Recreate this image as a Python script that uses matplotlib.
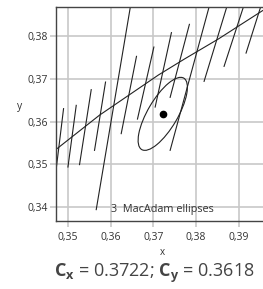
import matplotlib
matplotlib.use("Agg")
import matplotlib.pyplot as plt
from matplotlib.patches import Ellipse
from matplotlib.ticker import FuncFormatter
from matplotlib import font_manager

# chromaticity point
cx = 0.3722
cy = 0.3618

# planckian locus
locus_x = [0.3460, 0.3475, 0.3574, 0.3712, 0.3774, 0.3852, 0.3955, 0.3990]
locus_y = [0.3526, 0.3537, 0.3615, 0.3709, 0.3747, 0.3793, 0.3859, 0.3878]

# isotherm segments, 4900K .. 3700K, (x1, y1) -> (x2, y2)
iso_x1 = [0.34897, 0.35194, 0.35545, 0.35880, 0.36487, 0.36605, 0.37012,
          0.37423, 0.37844, 0.38347, 0.38766, 0.39159, 0.39561]
iso_y1 = [0.36302, 0.36379, 0.36746, 0.36924, 0.38835, 0.37525, 0.37743,
          0.38080, 0.38274, 0.38835, 0.38835, 0.38835, 0.38835]
iso_x2 = [0.34715, 0.35000, 0.35271, 0.35622, 0.35662, 0.36247, 0.36628,
          0.37042, 0.37393, 0.37393, 0.38188, 0.38656, 0.39171]
iso_y2 = [0.34812, 0.34936, 0.34992, 0.35326, 0.33939, 0.35717, 0.36058,
          0.36339, 0.36566, 0.35326, 0.36940, 0.37291, 0.37602]

# 3-step macadam ellipse
ell_a = 0.0097
ell_b = 0.0035
ell_angle = 59.5

xticks = [0.35, 0.36, 0.37, 0.38, 0.39]
yticks = [0.34, 0.35, 0.36, 0.37, 0.38]

# pick a family that really has a bold face
bold_fam = 'DejaVu Sans'
for fam in ['Noto Sans', 'Open Sans', 'Lato', 'Roboto', 'Liberation Sans']:
    try:
        f = font_manager.findfont(font_manager.FontProperties(family=fam, weight='bold'),
                                  fallback_to_default=False)
        if 'bold' in f.lower() and fam.split()[0].lower() in f.lower():
            bold_fam = fam
            break
    except Exception:
        pass

plt.rcParams['font.family'] = [bold_fam, 'DejaVu Sans']
plt.rcParams['mathtext.fontset'] = 'custom'
plt.rcParams['mathtext.rm'] = bold_fam
plt.rcParams['mathtext.bf'] = bold_fam + ':bold'

fig = plt.figure(figsize=(2.63, 2.89), dpi=100)
ax = fig.add_axes([56 / 263, 68.3 / 289, 213.5 / 263, 213.7 / 289])

ax.set_xlim(cx - 0.025, cx + 0.025)
ax.set_ylim(cy - 0.025, cy + 0.025)

ax.set_xticks(xticks)
ax.set_yticks(yticks)
comma = FuncFormatter(lambda v, p: ("%.2f" % v).replace(".", ","))
ax.xaxis.set_major_formatter(comma)
ax.yaxis.set_major_formatter(comma)
ax.tick_params(direction='out', length=4, width=1.2, color='#c8c8c8',
               labelsize=7.5, labelcolor='#333333', pad=2)
ax.tick_params(axis='x', pad=4)
ax.grid(True, color='#c8c8c8', lw=1.2)
ax.set_axisbelow(True)
for s in ax.spines.values():
    s.set_color('#444444')
    s.set_linewidth(1.0)

for i in range(len(iso_x1)):
    ax.plot([iso_x1[i], iso_x2[i]], [iso_y1[i], iso_y2[i]], color='#222222', lw=0.8)

ax.plot(locus_x, locus_y, color='#222222', lw=0.8)

e = Ellipse((cx, cy), 2 * ell_a, 2 * ell_b, angle=ell_angle,
            fill=False, edgecolor='#222222', lw=0.8)
ax.add_patch(e)
ax.plot([cx], [cy], 'o', color='black', ms=4.5)

ax.text(cx, 0.3395, "3  MacAdam ellipses", fontsize=7.8, color='#333333',
        ha='center', va='center')

ax.set_xlabel("x", fontsize=7, color='#333333', labelpad=3)
ax.set_ylabel("y", fontsize=7.5, color='#333333', rotation=0, labelpad=6)
ax.yaxis.set_label_coords(-0.17, 0.51 * 213.75 / 213.5)

fig.text(154 / 263, 1 - 273 / 289,
         r"$\mathbf{C_x}$ = 0.3722; $\mathbf{C_y}$ = 0.3618",
         fontsize=13, color='#444444', ha='center', va='center')

fig.savefig("out.png", dpi=100)
